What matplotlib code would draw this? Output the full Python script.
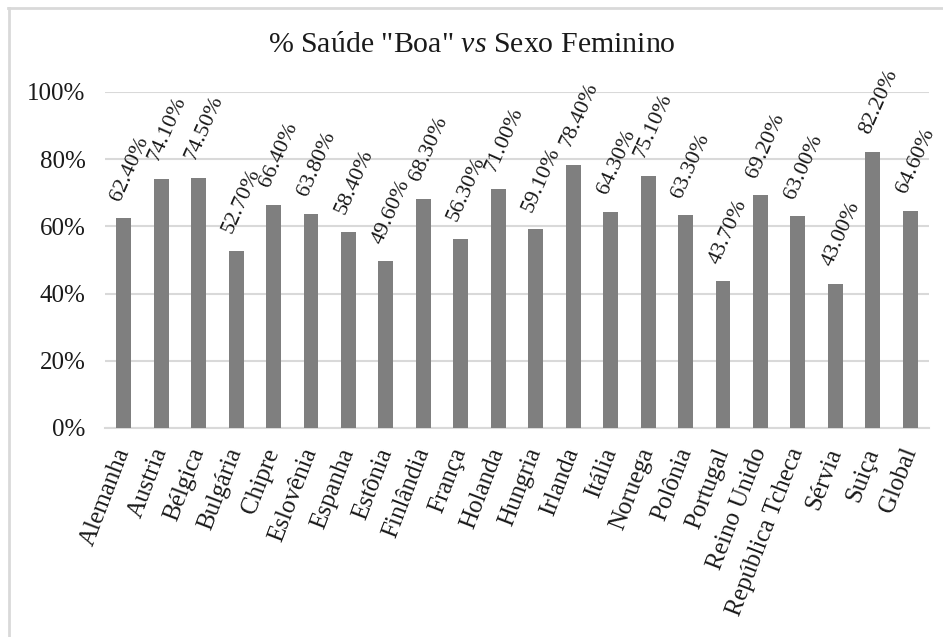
import matplotlib
matplotlib.use('Agg')
from matplotlib import pyplot as plt
from matplotlib.lines import Line2D
from matplotlib.ticker import PercentFormatter

paises = ['Alemanha', 'Austria', 'Bélgica', 'Bulgária', 'Chipre', 'Eslovênia',
          'Espanha', 'Estônia', 'Finlândia', 'França', 'Holanda', 'Hungria',
          'Irlanda', 'Itália', 'Noruega', 'Polônia', 'Portugal', 'Reino Unido',
          'República Tcheca', 'Sérvia', 'Suiça', 'Global']
saude_boa = [62.4, 74.1, 74.5, 52.7, 66.4, 63.8, 58.4, 49.6, 68.3, 56.3, 71.0,
             59.1, 78.4, 64.3, 75.1, 63.3, 43.7, 69.2, 63.0, 43.0, 82.2, 64.6]
y_ticks = [0, 20, 40, 60, 80, 100]

plt.rcParams['font.family'] = ['Liberation Serif', 'DejaVu Serif']
plt.rcParams['mathtext.fontset'] = 'custom'
plt.rcParams['mathtext.rm'] = 'Liberation Serif'
plt.rcParams['mathtext.it'] = 'Liberation Serif:italic'

fig = plt.figure(figsize=(9.43, 6.37), dpi=100)
ax = fig.add_axes([105 / 943, 1 - 428 / 637, 824 / 943, 336 / 637])

x = list(range(len(paises)))
ax.bar(x, saude_boa, width=0.4, color='#7f7f7f', zorder=3)

for xi, v in zip(x, saude_boa):
    ax.text(xi - 0.22, v + 5.5, f'{v:.2f}%', rotation=66, rotation_mode='anchor',
            ha='left', va='center', fontsize=16, color='#1a1a1a')

ax.set_xlim(-0.5, len(paises) - 0.5)
ax.set_ylim(0, 100)
ax.set_yticks(y_ticks)
ax.yaxis.set_major_formatter(PercentFormatter(decimals=0))
ax.grid(axis='y', color='#d9d9d9', linewidth=1.5, zorder=0)
for s in ['top', 'right', 'left']:
    ax.spines[s].set_visible(False)
ax.spines['bottom'].set_color('#d9d9d9')
ax.spines['bottom'].set_linewidth(1.5)
ax.tick_params(axis='both', length=0, labelsize=18, colors='#1a1a1a')
ax.tick_params(axis='y', pad=14)

ax.set_xticks(x)
ax.set_xticklabels(paises, rotation=69, ha='right', va='center',
                   rotation_mode='anchor')
ax.tick_params(axis='x', pad=15)

fig.text(0.5, 1 - 45 / 637, '% Saúde "Boa" $\\mathit{vs}$ Sexo Feminino',
         ha='center', va='center', fontsize=21.5, color='#1a1a1a')

# moldura do gráfico (só topo e esquerda)
fig.add_artist(Line2D([8 / 943, 1], [1 - 8 / 637, 1 - 8 / 637],
                      transform=fig.transFigure, color='#d9d9d9', linewidth=2))
fig.add_artist(Line2D([9 / 943, 9 / 943], [0, 1 - 8 / 637],
                      transform=fig.transFigure, color='#d9d9d9', linewidth=2))

fig.savefig('out.png', dpi=100)
